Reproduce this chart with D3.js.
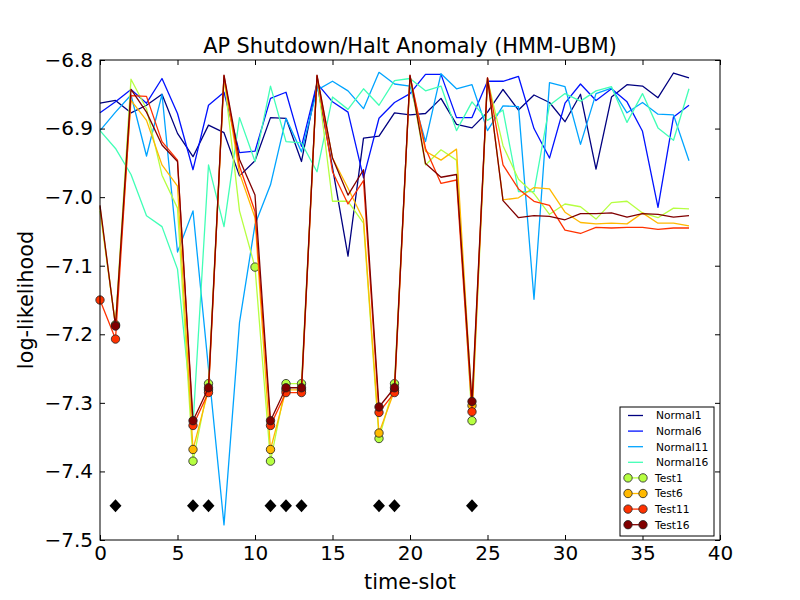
<!DOCTYPE html>
<html><head><meta charset="utf-8">
<script src="https://cdn.jsdelivr.net/npm/d3@7/dist/d3.min.js"></script>
<style>
body{margin:0;background:#fff}
text{font-family:"DejaVu Sans",sans-serif;fill:#000}
</style>
</head><body>
<svg id="chart" width="800" height="600"></svg>
<script>
// ---------- data ----------
const timeSlots = [0,1,2,3,4,5,6,7,8,9,10,11,12,13,14,15,16,17,18,19,20,21,22,23,24,25,26,27,28,29,30,31,32,33,34,35,36,37,38];

const normal1  = [-6.863,-6.859,-6.877,-6.866,-6.850,-6.907,-6.941,-6.895,-6.906,-6.969,-6.947,-6.884,-6.885,-6.948,-6.834,-6.957,-7.086,-6.914,-6.911,-6.877,-6.880,-6.878,-6.856,-6.894,-6.899,-6.876,-6.843,-6.873,-6.851,-6.862,-6.890,-6.850,-6.959,-6.854,-6.836,-6.838,-6.855,-6.819,-6.826];
const normal6  = [-6.877,-6.861,-6.843,-6.863,-6.827,-6.878,-6.960,-6.866,-6.847,-6.935,-6.933,-6.856,-6.847,-6.926,-6.834,-6.861,-6.876,-6.972,-6.885,-6.862,-6.849,-6.821,-6.821,-6.884,-6.884,-6.831,-6.831,-6.824,-6.900,-6.943,-6.863,-6.835,-6.859,-6.842,-6.861,-6.904,-7.015,-6.883,-6.866];
const normal11 = [-6.903,-6.876,-6.851,-6.940,-6.850,-7.080,-7.020,-7.250,-7.478,-7.183,-7.040,-6.982,-6.885,-6.934,-6.844,-6.831,-6.845,-6.871,-6.818,-6.835,-6.838,-6.919,-6.820,-6.842,-6.836,-6.903,-6.867,-6.868,-7.149,-6.833,-6.839,-6.923,-6.849,-6.841,-6.877,-6.862,-6.879,-6.880,-6.947];
const normal16 = [-6.903,-6.929,-6.967,-7.027,-7.043,-7.105,-7.332,-6.953,-7.043,-6.884,-6.948,-6.838,-6.919,-6.921,-6.963,-6.854,-6.872,-6.842,-6.866,-6.830,-6.827,-6.845,-6.838,-6.903,-6.861,-6.888,-6.873,-6.992,-6.992,-6.866,-6.849,-6.860,-6.845,-6.839,-6.891,-6.849,-6.899,-6.917,-6.842];
const test1  = [-7.020,-7.186,-6.828,-6.871,-6.968,-7.016,-7.385,-7.272,-6.825,-7.020,-7.102,-7.385,-7.272,-7.272,-6.824,-7.006,-7.006,-7.038,-7.352,-7.272,-6.826,-6.953,-6.931,-6.946,-7.326,-6.828,-6.925,-6.974,-6.995,-7.025,-7.010,-7.014,-7.032,-7.008,-7.006,-7.023,-7.030,-7.016,-7.017];
const test6  = [-7.015,-7.187,-6.859,-6.888,-6.953,-6.984,-7.368,-7.281,-6.825,-6.965,-7.030,-7.368,-7.281,-7.281,-6.824,-6.943,-6.987,-7.033,-7.344,-7.282,-6.824,-6.933,-6.946,-6.930,-7.304,-6.827,-7.004,-7.001,-6.986,-6.988,-7.022,-7.037,-7.039,-7.038,-7.039,-7.023,-7.038,-7.038,-7.042];
const test11 = [-7.150,-7.207,-6.852,-6.853,-6.919,-6.946,-7.333,-7.285,-6.823,-6.955,-7.021,-7.333,-7.285,-7.285,-6.823,-6.963,-7.010,-6.976,-7.314,-7.285,-6.823,-6.929,-6.980,-6.975,-7.313,-6.826,-6.953,-6.988,-7.006,-7.012,-7.048,-7.053,-7.044,-7.045,-7.044,-7.044,-7.047,-7.045,-7.045];
const test16 = [-7.012,-7.188,-6.843,-6.876,-6.924,-6.948,-7.326,-7.278,-6.822,-6.945,-6.997,-7.326,-7.278,-7.278,-6.822,-6.943,-6.997,-6.960,-7.306,-7.278,-6.822,-6.951,-6.971,-6.967,-7.298,-6.826,-7.005,-7.030,-7.027,-7.028,-7.033,-7.024,-7.024,-7.023,-7.029,-7.024,-7.025,-7.029,-7.027];

const normalNames = ["Normal1","Normal6","Normal11","Normal16"];
const testNames   = ["Test1","Test6","Test11","Test16"];
const normalColors = ["#000080","#0012ff","#00a4ff","#41ffb6"];
const testColors   = ["#b6ff41","#ffb900","#ff3200","#800000"];

const anomalySlots = [1,6,7,11,12,13,18,19,24];
const anomalyLevel = -7.45;
const markThreshold = -7.08;   // test points below this get a circle marker

const xTicks = [0,5,10,15,20,25,30,35,40];
const yTicks = [-6.8,-6.9,-7.0,-7.1,-7.2,-7.3,-7.4,-7.5];
const titleText = "AP Shutdown/Halt Anomaly (HMM-UBM)";
const xLabel = "time-slot";
const yLabel = "log-likelihood";

// ---------- chart ----------
const normalSeries = [normal1, normal6, normal11, normal16];
const testSeries = [test1, test6, test11, test16];

const L = 100, R = 720, T = 60, B = 540;
const svg = d3.select("#chart");
svg.append("rect").attr("width",800).attr("height",600).attr("fill","#fff");

const x = d3.scaleLinear().domain([0,40]).range([L,R]);
const y = d3.scaleLinear().domain([-7.5,-6.8]).range([B,T]);

const line = d3.line().x((d,i)=>x(timeSlots[i])).y(d=>y(d));

const plot = svg.append("g");

normalSeries.forEach((s,k)=>{
  plot.append("path").attr("d", line(s)).attr("fill","none")
    .attr("stroke", normalColors[k]).attr("stroke-width",1.3).attr("stroke-linejoin","round");
});

testSeries.forEach((s,k)=>{
  const g = plot.append("g");
  g.append("path").attr("d", line(s)).attr("fill","none")
    .attr("stroke", testColors[k]).attr("stroke-width",1.3).attr("stroke-linejoin","round");
  g.selectAll("circle").data(s.map((v,i)=>({v,i})).filter(d=>d.v < markThreshold))
    .join("circle")
    .attr("cx", d=>x(timeSlots[d.i])).attr("cy", d=>y(d.v)).attr("r",4.2)
    .attr("fill", testColors[k]).attr("stroke","#222").attr("stroke-width",0.8);
});

// anomaly diamonds
const dsz = 6.5;
plot.selectAll("path.diamond").data(anomalySlots).join("path")
  .attr("class","diamond")
  .attr("d", d=>{
    const cx = x(d), cy = y(anomalyLevel);
    return `M${cx},${cy-dsz}L${cx+dsz*0.92},${cy}L${cx},${cy+dsz}L${cx-dsz*0.92},${cy}Z`;
  })
  .attr("fill","#000");

// axes
const fmt = d => d3.format(".1f")(d).replace("-","\u2212");
const tick = 5;
const axB = svg.append("g").attr("transform",`translate(0,${B})`)
  .call(d3.axisBottom(x).tickValues(xTicks).tickSizeInner(-tick).tickSizeOuter(0).tickPadding(6).tickFormat(d3.format("d")));
const axT = svg.append("g").attr("transform",`translate(0,${T})`)
  .call(d3.axisTop(x).tickValues(xTicks).tickSizeInner(-tick).tickSizeOuter(0).tickFormat(""));
const axL = svg.append("g").attr("transform",`translate(${L},0)`)
  .call(d3.axisLeft(y).tickValues(yTicks).tickSizeInner(-tick).tickSizeOuter(0).tickPadding(7).tickFormat(fmt));
const axR = svg.append("g").attr("transform",`translate(${R},0)`)
  .call(d3.axisRight(y).tickValues(yTicks).tickSizeInner(-tick).tickSizeOuter(0).tickFormat(""));
[axB,axT,axL,axR].forEach(a=>{
  a.select(".domain").remove();
  a.selectAll("line").attr("stroke","#000").attr("stroke-width",1);
  a.selectAll("text").attr("font-size",20).attr("font-family","DejaVu Sans").attr("fill","#000");
});

svg.append("rect").attr("x",L).attr("y",T).attr("width",R-L).attr("height",B-T)
  .attr("fill","none").attr("stroke","#000").attr("stroke-width",1);

// title and labels
svg.append("text").attr("x",410).attr("y",52.5).attr("text-anchor","middle")
  .attr("font-size",20.8).text(titleText);
svg.append("text").attr("x",410).attr("y",589).attr("text-anchor","middle")
  .attr("font-size",20.8).text(xLabel);
svg.append("text").attr("transform","translate(33,300) rotate(-90)").attr("text-anchor","middle")
  .attr("font-size",20.8).text(yLabel);

// legend
const lg = svg.append("g");
const lx = 620, ly = 407, lw = 94, lh = 129;
lg.append("rect").attr("x",lx).attr("y",ly).attr("width",lw).attr("height",lh)
  .attr("fill","#fff").attr("stroke","#000").attr("stroke-width",1);
const rowY = i => ly + 8.5 + i*15.6;
normalNames.forEach((n,i)=>{
  lg.append("line").attr("x1",lx+8).attr("x2",lx+23).attr("y1",rowY(i)).attr("y2",rowY(i))
    .attr("stroke",normalColors[i]).attr("stroke-width",1.3);
  lg.append("text").attr("x",lx+36).attr("y",rowY(i)).attr("dy","0.36em")
    .attr("font-size",10.7).text(n);
});
testNames.forEach((n,j)=>{
  const i = j+4;
  lg.append("line").attr("x1",lx+8).attr("x2",lx+23).attr("y1",rowY(i)).attr("y2",rowY(i))
    .attr("stroke",testColors[j]).attr("stroke-width",1.3);
  [lx+8,lx+23].forEach(cx=>{
    lg.append("circle").attr("cx",cx).attr("cy",rowY(i)).attr("r",4.2)
      .attr("fill",testColors[j]).attr("stroke","#222").attr("stroke-width",0.8);
  });
  lg.append("text").attr("x",lx+35).attr("y",rowY(i)).attr("dy","0.36em")
    .attr("font-size",10.7).text(n);
});
</script>
</body></html>
